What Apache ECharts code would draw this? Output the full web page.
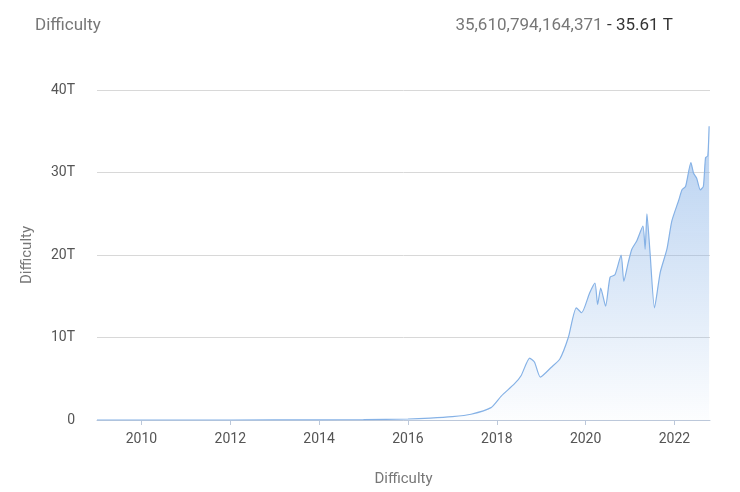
<!DOCTYPE html>
<html>
<head>
<meta charset="utf-8">
<script src="https://cdn.jsdelivr.net/npm/echarts@6/dist/echarts.min.js"></script>
<style>body{margin:0}#main{width:740px;height:492px}</style>
</head>
<body>
<div id="main"></div>
<script>
// year (decimal) and difficulty in T
var years = [2009, 2011, 2013, 2014, 2015, 2016, 2016.5, 2017, 2017.42, 2017.87, 2018.1, 2018.4, 2018.55, 2018.74, 2018.85, 2018.98,
  2019.23, 2019.42, 2019.61, 2019.79, 2019.91, 2020.09, 2020.21, 2020.27, 2020.34, 2020.45, 2020.55, 2020.66, 2020.8, 2020.86,
  2020.96, 2021.04, 2021.15, 2021.29, 2021.34, 2021.38, 2021.45, 2021.55, 2021.68, 2021.83, 2021.94, 2022.1, 2022.17, 2022.25,
  2022.37, 2022.43, 2022.5, 2022.58, 2022.65, 2022.7, 2022.75, 2022.78]
var difficulty = [0, 0.0001, 0.005, 0.02, 0.05, 0.12, 0.22, 0.4, 0.7, 1.5, 2.9, 4.4, 5.4, 7.5, 7.0, 5.2,
  6.4, 7.4, 10.0, 13.6, 13.0, 15.4, 16.6, 14.0, 16.0, 13.8, 17.3, 17.6, 20.0, 16.8,
  19.1, 20.7, 21.7, 23.5, 20.7, 25.0, 20.3, 13.6, 17.9, 20.7, 24.1, 26.7, 27.9, 28.3,
  31.2, 29.9, 29.3, 27.9, 28.3, 31.8, 32.0, 35.6]
var yearLabels = [2010, 2012, 2014, 2016, 2018, 2020, 2022]

var myChart = echarts.init(document.getElementById('main'))
var option = {
  animation: false,
  textStyle: { fontFamily: 'Roboto' },
  title: [
    { text: 'Difficulty', left: 30, top: 12, textStyle: { color: '#777', fontSize: 17, fontWeight: 'normal' } },
    {
      text: '{a|35,610,794,164,371} {b|- 35.61 T}', right: 62, top: 12,
      textStyle: { fontWeight: 'normal', rich: { a: { color: '#777', fontSize: 17 }, b: { color: '#333', fontSize: 17 } } }
    }
  ],
  grid: { left: 97, right: 30, top: 90, bottom: 70 },
  xAxis: {
    type: 'value', min: 2009, max: 2022.8,
    name: 'Difficulty', nameLocation: 'middle', nameGap: 52,
    nameTextStyle: { color: '#777', fontSize: 15 },
    axisLine: { lineStyle: { color: '#bcc8da' } },
    axisTick: { customValues: yearLabels, lineStyle: { color: '#bcc8da' } },
    axisLabel: { customValues: yearLabels, color: '#555', fontSize: 14, margin: 12, formatter: function (v) { return String(v) } },
    splitLine: { show: false }
  },
  yAxis: {
    type: 'value', min: 0, max: 40, interval: 10,
    name: 'Difficulty', nameLocation: 'middle', nameGap: 62,
    nameTextStyle: { color: '#777', fontSize: 15 },
    axisLine: { show: false }, axisTick: { show: false },
    axisLabel: { color: '#555', fontSize: 14, margin: 22, formatter: function (v) { return v === 0 ? '0' : v + 'T' } },
    splitLine: { lineStyle: { color: '#d8d8d8' } }
  },
  series: [{
    type: 'line', symbol: 'none', smooth: 0.2,
    data: years.map(function (y, i) { return [y, difficulty[i]] }),
    lineStyle: { color: '#86b2e6', width: 1.2 },
    areaStyle: {
      color: new echarts.graphic.LinearGradient(0, 0, 0, 1, [
        { offset: 0, color: 'rgba(132,176,230,0.85)' },
        { offset: 1, color: 'rgba(132,176,230,0.03)' }
      ])
    }
  }]
}
myChart.setOption(option)
</script>
</body>
</html>
